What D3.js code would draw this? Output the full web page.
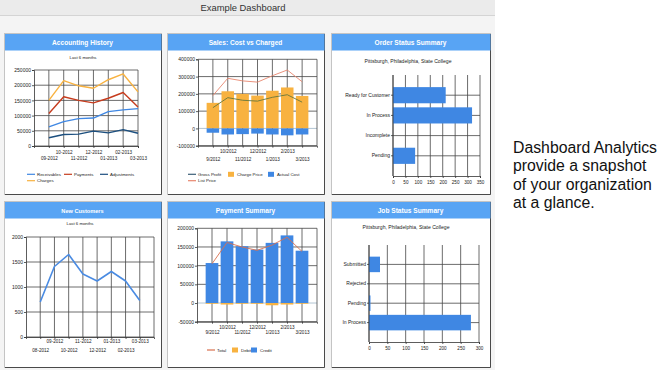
<!DOCTYPE html>
<html>
<head>
<meta charset="utf-8">
<script src="https://cdn.jsdelivr.net/npm/d3@7"></script>
<style>
  body { margin: 0; background: #fff; font-family: "Liberation Sans", Arial, sans-serif; }
  svg { display: block; }
</style>
</head>
<body>
<svg id="dash" width="670" height="370"></svg>
<script>
// --- data
const acctMonths = ["09-2012", "10-2012", "11-2012", "12-2012", "01-2013", "02-2013", "03-2013"];
const receivables = [63000, 80000, 90000, 92000, 113000, 119000, 123000];
const payments = [107000, 162000, 150000, 142000, 157000, 176000, 128000];
const adjustments = [27000, 38000, 39000, 49000, 43000, 54000, 42000];
const charges = [150000, 215000, 198000, 190000, 218000, 237000, 178000];

const salesMonths = ["9/2012", "10/2012", "11/2012", "12/2012", "1/2013", "2/2013", "3/2013"];
const chargePrice = [148000, 215000, 200000, 190000, 218000, 237000, 188000];
const actualCost = [-25000, -35000, -33000, -30000, -35000, -40000, -35000];
const grossProfit = [120000, 178000, 163000, 158000, 180000, 195000, 152000];
const listPrice = [190000, 290000, 275000, 268000, 305000, 338000, 270000];

const orderStatus = ["Ready for Customer", "In Process", "Incomplete", "Pending"];
const orderCounts = [212, 318, 0, 89];

const custMonths = ["08-2012", "09-2012", "10-2012", "11-2012", "12-2012", "01-2013", "02-2013", "03-2013"];
const newCustomers = [700, 1410, 1650, 1260, 1120, 1310, 1120, 730];

const payMonths = ["9/2012", "10/2012", "11/2012", "12/2012", "1/2013", "2/2013", "3/2013"];
const credit = [107000, 165000, 152000, 143000, 161000, 181000, 140000];
const debit = [-2000, -4000, -2000, -2000, -6000, -4000, -2000];
const total = [105000, 162000, 150000, 141000, 155000, 176000, 138000];

const jobStatus = ["Submitted", "Rejected", "Pending", "In Process"];
const jobCounts = [30, 0, 4, 278];

const BLUE = "#3f87e3";
const ORANGE = "#f8b240";
const GRID = "#464646";
const FONT = '"Liberation Sans", Arial, sans-serif';

const svg = d3.select("#dash").style("font-family", FONT);

// page background + title bar
svg.append("rect").attr("width", 495).attr("height", 370).attr("fill", "#f4f4f4");
svg.append("rect").attr("width", 495).attr("height", 15).attr("fill", "#ebebeb");
svg.append("line").attr("x1", 0).attr("x2", 495).attr("y1", 15.5).attr("y2", 15.5).attr("stroke", "#d4d4d4");
svg.append("text").attr("x", 243).attr("y", 11).attr("text-anchor", "middle")
  .style("font-size", "9.4px").attr("fill", "#333").text("Example Dashboard");

// side note
const note = svg.append("text").attr("x", 513).attr("y", 153).style("font-size", "15.8px").attr("fill", "#111");
["Dashboard Analytics", "provide a snapshot", "of your organization", "at a glance."].forEach((t, i) => {
  note.append("tspan").attr("x", 513).attr("dy", i ? 18.3 : 0).text(t);
});

function panel(x, y, w, h, title, fs = 6.6) {
  const g = svg.append("g");
  g.append("rect").attr("x", x + 0.5).attr("y", y + 0.5).attr("width", w).attr("height", h)
    .attr("fill", "#fff").attr("stroke", "#c4c4c4");
  g.append("path").attr("d", `M${x + w + 0.5},${y + 1}V${y + h + 0.5}H${x + 1}`)
    .attr("fill", "none").attr("stroke", "#4a4a4a");
  g.append("rect").attr("x", x + 1).attr("y", y + 1).attr("width", w - 0.5).attr("height", 16.5).attr("fill", "#58a4f4");
  g.append("text").attr("x", x + w / 2).attr("y", y + 11.5).attr("text-anchor", "middle")
    .attr("fill", "#fff").style("font-weight", "bold").style("font-size", fs + "px").text(title);
  return g;
}

function subtitle(g, x, y, text, fs) {
  g.append("text").attr("x", x).attr("y", y).attr("text-anchor", "middle")
    .style("font-size", fs + "px").attr("fill", "#222").text(text);
}

// category (time) chart frame: gridlines + axes, returns scales
function vChart(g, o) {
  const n = o.cats.length;
  const x = d3.scaleLinear().domain([-1, o.xMax]).range([o.left, o.right]);
  const y = d3.scaleLinear().domain(o.yDomain).range([o.bottom, o.top]);

  g.append("g").selectAll("line").data(o.yTicks).join("line")
    .attr("x1", o.left).attr("x2", o.right)
    .attr("y1", d => y(d)).attr("y2", d => y(d))
    .attr("stroke", d => (d === 0 && o.zeroColor) ? o.zeroColor : GRID).attr("stroke-width", 0.8);

  const vx = d3.range(n).map(x);
  if (o.xMax > n - 1) vx.push(o.right);
  g.append("g").selectAll("line").data(vx).join("line")
    .attr("x1", d => d).attr("x2", d => d).attr("y1", o.top).attr("y2", o.bottom)
    .attr("stroke", GRID).attr("stroke-width", 0.8);

  const ya = g.append("g").attr("transform", `translate(${o.left},0)`)
    .call(d3.axisLeft(y).tickValues(o.yTicks).tickSize(2).tickPadding(1).tickFormat(d => String(d)));
  ya.select(".domain").attr("stroke", "#333").attr("stroke-width", 0.8);
  ya.selectAll(".tick line").attr("stroke", "#333").attr("stroke-width", 0.8);
  ya.selectAll("text").style("font-size", "5px").style("font-family", FONT).attr("fill", "#222");

  const xa = g.append("g").attr("transform", `translate(0,${o.bottom})`)
    .call(d3.axisBottom(x).tickValues(d3.range(n)).tickSize(2).tickFormat(i => o.cats[i]));
  xa.select(".domain").attr("stroke", "#333").attr("stroke-width", 0.8);
  xa.selectAll(".tick line").attr("stroke", "#333").attr("stroke-width", 0.8);
  xa.selectAll("text").attr("y", i => (i % 2 ? o.row1 : o.row2) - o.bottom).attr("dy", "0.35em")
    .style("font-size", "4.6px").style("font-family", FONT).attr("fill", "#222");
  return { x, y };
}

// horizontal bar chart
function hChart(g, o) {
  const y = d3.scaleBand().domain(o.cats).range([o.top, o.bottom]).paddingInner(0.2).paddingOuter(0.6);
  const x = d3.scaleLinear().domain([0, o.xMax]).range([o.left, o.right]);
  const xt = d3.range(0, o.xMax + 1, 50);

  g.append("g").selectAll("line").data(xt).join("line")
    .attr("x1", d => x(d)).attr("x2", d => x(d)).attr("y1", o.top).attr("y2", o.bottom)
    .attr("stroke", GRID).attr("stroke-width", 0.8);
  g.append("g").selectAll("line").data(o.cats).join("line")
    .attr("x1", o.left).attr("x2", o.right)
    .attr("y1", d => y(d) + y.bandwidth() / 2).attr("y2", d => y(d) + y.bandwidth() / 2)
    .attr("stroke", GRID).attr("stroke-width", 0.8);

  g.append("g").selectAll("rect").data(o.values).join("rect")
    .attr("x", x(0)).attr("y", (d, i) => y(o.cats[i]))
    .attr("width", d => x(d) - x(0)).attr("height", y.bandwidth())
    .attr("fill", BLUE);

  const ya = g.append("g").attr("transform", `translate(${o.left},0)`)
    .call(d3.axisLeft(y).tickSize(2).tickPadding(1));
  ya.select(".domain").remove();
  ya.selectAll(".tick line").attr("stroke", "#333").attr("stroke-width", 0.8);
  ya.selectAll("text").style("font-size", "5px").style("font-family", FONT).attr("fill", "#222");

  const xa = g.append("g").attr("transform", `translate(0,${o.bottom})`)
    .call(d3.axisBottom(x).tickValues(xt).tickSize(2).tickPadding(3));
  xa.select(".domain").attr("stroke", "#333").attr("stroke-width", 0.8);
  xa.selectAll(".tick line").attr("stroke", "#333").attr("stroke-width", 0.8);
  xa.selectAll("text").style("font-size", "4.6px").style("font-family", FONT).attr("fill", "#222");
  g.append("line").attr("x1", o.left).attr("x2", o.left).attr("y1", o.top).attr("y2", o.bottom)
    .attr("stroke", "#333").attr("stroke-width", 0.8);
}

function legend(g, items) {
  items.forEach(it => {
    if (it.type === "line") {
      g.append("line").attr("x1", it.x).attr("x2", it.x + 8).attr("y1", it.y).attr("y2", it.y)
        .attr("stroke", it.color).attr("stroke-width", 1.2);
    } else {
      g.append("rect").attr("x", it.x + 1).attr("y", it.y - 2.5).attr("width", 6).attr("height", 5).attr("fill", it.color);
    }
    g.append("text").attr("x", it.x + 10).attr("y", it.y).attr("dy", "0.35em")
      .style("font-size", "4.4px").attr("fill", "#222").text(it.label);
  });
}

function lineOf(g, sc, vals, color, w) {
  g.append("path").datum(vals)
    .attr("d", d3.line().x((d, i) => sc.x(i)).y(d => sc.y(d)))
    .attr("fill", "none").attr("stroke", color).attr("stroke-width", w).attr("stroke-linejoin", "round");
}

function barsOf(g, sc, vals, color, bw) {
  g.append("g").selectAll("rect").data(vals).join("rect")
    .attr("x", (d, i) => sc.x(i) - bw / 2).attr("width", bw)
    .attr("y", d => sc.y(Math.max(0, d))).attr("height", d => Math.abs(sc.y(d) - sc.y(0)))
    .attr("fill", color);
}

// 1. Accounting History
{
  const g = panel(4, 33, 157, 161, "Accounting History");
  subtitle(g, 83, 59, "Last 6 months", 4.3);
  const sc = vChart(g, { cats: acctMonths, xMax: 6, left: 34, right: 138, top: 70, bottom: 146,
    yDomain: [0, 250000], yTicks: d3.range(0, 250001, 50000), row1: 152.7, row2: 158.4 });
  lineOf(g, sc, receivables, BLUE, 1.4);
  lineOf(g, sc, payments, "#c63c1e", 1.4);
  lineOf(g, sc, adjustments, "#1c4f7f", 1.4);
  lineOf(g, sc, charges, ORANGE, 1.4);
  legend(g, [
    { type: "line", color: BLUE, label: "Receivables", x: 27, y: 174.3 },
    { type: "line", color: "#c63c1e", label: "Payments", x: 64, y: 174.3 },
    { type: "line", color: "#1c4f7f", label: "Adjustments", x: 100, y: 174.3 },
    { type: "line", color: ORANGE, label: "Charges", x: 27, y: 180.7 }
  ]);
}

// 2. Sales: Cost vs Charged
{
  const g = panel(167, 33, 157, 161, "Sales: Cost vs Charged");
  const sc = vChart(g, { cats: salesMonths, xMax: 7, left: 198, right: 317, top: 59.3, bottom: 145.7,
    yDomain: [-100000, 400000], yTicks: d3.range(-100000, 400001, 100000), zeroColor: "#9fb6c8",
    row1: 151.7, row2: 159.3 });
  barsOf(g, sc, chargePrice, ORANGE, 12.5);
  barsOf(g, sc, actualCost, BLUE, 12.5);
  lineOf(g, sc, grossProfit, "#66773c", 0.9);
  lineOf(g, sc, listPrice, "#e8866e", 0.9);
  legend(g, [
    { type: "line", color: "#3c5f78", label: "Gross Profit", x: 188, y: 174.3 },
    { type: "rect", color: ORANGE, label: "Charge Price", x: 227, y: 174.3 },
    { type: "rect", color: BLUE, label: "Actual Cost", x: 267, y: 174.3 },
    { type: "line", color: "#e8866e", label: "List Price", x: 188, y: 180.7 }
  ]);
}

// 3. Order Status Summary
{
  const g = panel(331, 33, 159, 161, "Order Status Summary");
  subtitle(g, 408, 63, "Pittsburgh, Philadelphia, State College", 5.1);
  hChart(g, { cats: orderStatus, values: orderCounts, xMax: 350, left: 393, right: 480, top: 75, bottom: 176 });
}

// 4. New Customers
{
  const g = panel(4, 201, 157, 166, "New Customers", 5.6);
  subtitle(g, 80, 225, "Last 6 months", 4.3);
  const sc = vChart(g, { cats: custMonths, xMax: 8, left: 26, right: 154, top: 237, bottom: 337,
    yDomain: [0, 2000], yTicks: d3.range(0, 2001, 500), row1: 341.7, row2: 350 });
  lineOf(g, sc, newCustomers, "#4a8be2", 1.6);
}

// 5. Payment Summary
{
  const g = panel(167, 201, 157, 166, "Payment Summary");
  const sc = vChart(g, { cats: payMonths, xMax: 7, left: 197, right: 317, top: 228.3, bottom: 321.7,
    yDomain: [-50000, 200000], yTicks: d3.range(-50000, 200001, 50000), zeroColor: "#9fb6c8",
    row1: 327.3, row2: 332.7 });
  barsOf(g, sc, credit, BLUE, 12.7);
  barsOf(g, sc, debit, ORANGE, 12.7);
  lineOf(g, sc, total, "#d9714f", 0.9);
  legend(g, [
    { type: "line", color: "#d9714f", label: "Total", x: 207, y: 350 },
    { type: "rect", color: ORANGE, label: "Debit", x: 231, y: 350 },
    { type: "rect", color: BLUE, label: "Credit", x: 250, y: 350 }
  ]);
}

// 6. Job Status Summary
{
  const g = panel(331, 201, 159, 166, "Job Status Summary");
  subtitle(g, 406, 229, "Pittsburgh, Philadelphia, State College", 5.1);
  hChart(g, { cats: jobStatus, values: jobCounts, xMax: 300, left: 369, right: 479, top: 245, bottom: 342 });
}
</script>
</body>
</html>
